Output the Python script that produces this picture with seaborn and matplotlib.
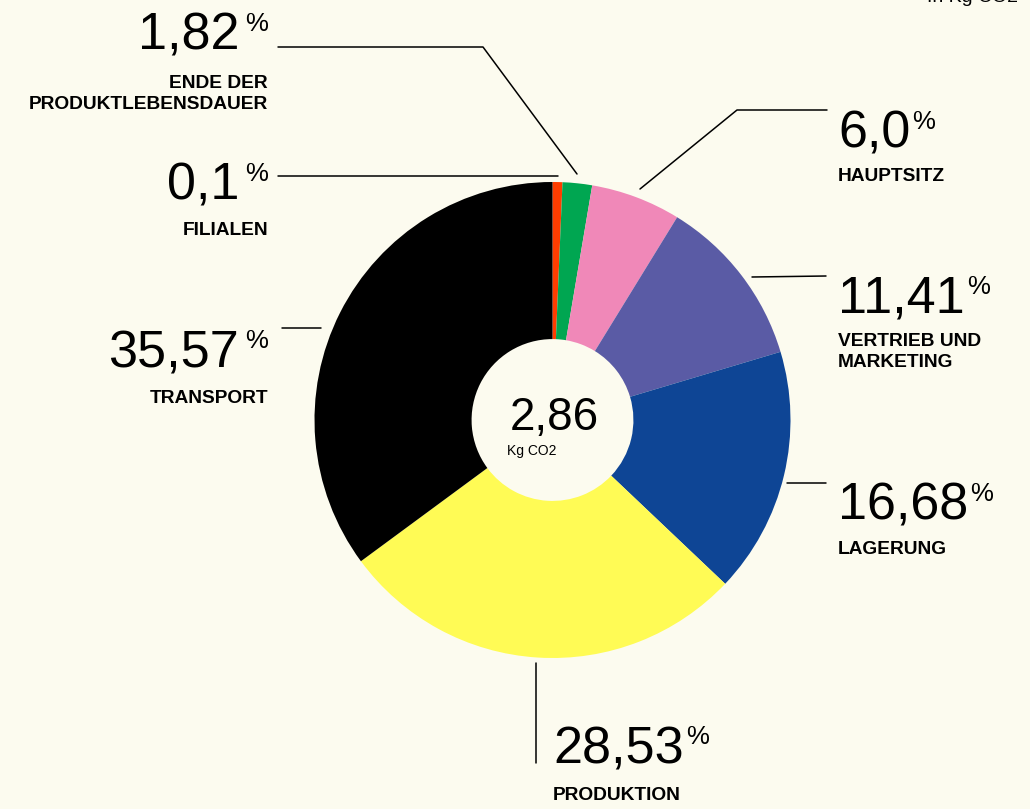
"""Donut chart: CO2 footprint per product, split by life-cycle stage."""

import matplotlib
matplotlib.use('Agg')
import matplotlib.pyplot as plt
from matplotlib.lines import Line2D
import seaborn as sns

# --- data ---
categories = ['FILIALEN', 'ENDE DER\nPRODUKTLEBENSDAUER', 'HAUPTSITZ',
              'VERTRIEB UND\nMARKETING', 'LAGERUNG', 'PRODUKTION', 'TRANSPORT']
percent_labels = ['0,1', '1,82', '6,0', '11,41', '16,68', '28,53', '35,57']
# slice sizes as drawn (the Filialen sliver is drawn wider than its 0,1 %)
shares = [0.67, 2.0, 6.1, 11.6, 16.7, 27.8, 35.1]
slice_colors = ['#FF3D00', '#00A651', '#F088B8', '#5A5BA5', '#0E4595', '#FFFB55', '#000000']
total_value = '2,86'
total_unit = 'Kg CO2'
unit_note = 'In Kg CO2'

BG = '#FCFBEF'
W, H = 1030, 809
NUM_SIZE = 37.5
PCT_SIZE = 18.5
LABEL_SIZE = 13.8

sns.set_theme(style='white', rc={'figure.facecolor': BG, 'axes.facecolor': BG,
                                 'text.color': 'black'})
plt.rcParams['font.family'] = ['Liberation Sans', 'DejaVu Sans']


def fx(x):
    return x / W


def fy(y):
    return 1 - y / H


# label layout in pixels: side, anchor x, number baseline, label top, leader polyline
layout = {
    'FILIALEN': ('right', 268, 200, 222, [(278, 176), (558, 176)]),
    'ENDE DER\nPRODUKTLEBENSDAUER': ('right', 268, 50, 75, [(278, 47), (483, 47), (577, 174)]),
    'HAUPTSITZ': ('left', 838, 148, 168, [(640, 189), (737, 110), (827, 110)]),
    'VERTRIEB UND\nMARKETING': ('left', 838, 313, 333, [(752, 277), (826, 276)]),
    'LAGERUNG': ('left', 838, 520, 541, [(787, 483), (826, 483)]),
    'PRODUKTION': ('left', 553, 763, 787, [(536, 663), (536, 763)]),
    'TRANSPORT': ('right', 268, 367, 390, [(282, 328), (321, 328)]),
}

fig = plt.figure(figsize=(W / 100, H / 100), dpi=100)

# donut, centred at (552, 420) px with radius 238 px
cx, cy, r = 552.5, 420, 238
ax = fig.add_axes([fx(cx - r), fy(cy + r), 2 * r / W, 2 * r / H])
ax.pie(shares, colors=slice_colors, startangle=90, counterclock=False,
       wedgeprops=dict(width=0.66, linewidth=0))
ax.set_xlim(-1, 1)
ax.set_ylim(-1, 1)
ax.set_axis_off()

fig.text(fx(554), fy(430), total_value, fontsize=33, ha='center', va='baseline')
fig.text(fx(507), fy(455), total_unit, fontsize=10, ha='left', va='baseline')
fig.text(fx(1018), fy(2), unit_note, fontsize=14, ha='right', va='baseline')

for cat, pct in zip(categories, percent_labels):
    side, x, base, label_top, leader = layout[cat]
    xs, ys = zip(*leader)
    fig.add_artist(Line2D([fx(v) for v in xs], [fy(v) for v in ys],
                          transform=fig.transFigure, color='black', lw=1.1))
    if side == 'left':
        num = fig.text(fx(x), fy(base), pct, fontsize=NUM_SIZE, ha='left', va='baseline')
        ax.annotate('%', xy=(1, 1), xycoords=num, xytext=(1.5, 0), textcoords='offset points',
                    fontsize=PCT_SIZE, ha='left', va='top', annotation_clip=False)
        fig.text(fx(x), fy(label_top), cat, fontsize=LABEL_SIZE, fontweight='bold',
                 ha='left', va='top', linespacing=1.3)
    else:
        # % flush right at x, digits to its left, tops aligned
        pc = fig.text(fx(x), fy(base - 38), '%', fontsize=PCT_SIZE, ha='right', va='top')
        fig.canvas.draw()
        num_right = pc.get_window_extent().x0 - 6
        fig.text(num_right / fig.bbox.width, fy(base), pct, fontsize=NUM_SIZE,
                 ha='right', va='baseline')
        fig.text(fx(x), fy(label_top), cat, fontsize=LABEL_SIZE, fontweight='bold',
                 ha='right', va='top', linespacing=1.3, multialignment='right')

fig.savefig('out.png', dpi=100, facecolor=BG)
